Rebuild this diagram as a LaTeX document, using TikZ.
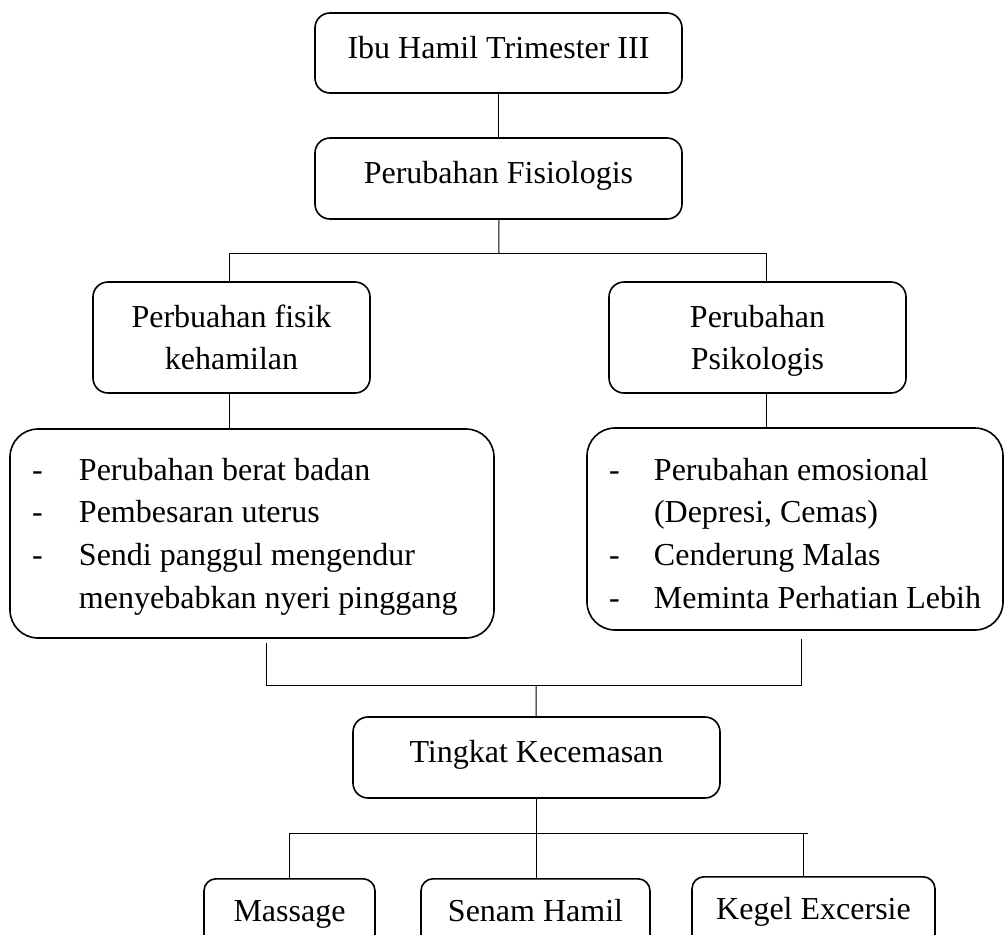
\documentclass[tikz,border=0pt]{standalone}
\usepackage{fontspec}
\setmainfont{Liberation Serif}

\begin{document}
\begin{tikzpicture}[x=1pt, y=-1pt,
  every node/.style={font=\fontsize{32}{42.7}\selectfont},
  box/.style={draw, line width=1.6pt, rounded corners=15pt, align=center, inner sep=0pt},
  oneline/.style={text height=22pt, text depth=12pt},
  listbox/.style={draw, line width=1.6pt, rounded corners=28pt, inner xsep=22pt, inner ysep=0pt, text height=30pt},
  link/.style={line width=1pt}]
  \useasboundingbox (0,0) rectangle (1005,935);

  \node[box, oneline, minimum width=367pt, minimum height=80pt] (ibu) at (498.5,53) {Ibu Hamil Trimester III};
  \node[box, oneline, minimum width=367pt, minimum height=81pt] (fisio) at (498.5,178.5) {Perubahan Fisiologis};
  \node[box, minimum width=277pt, minimum height=111pt] (fisik) at (231.5,337.5) {Perbuahan fisik\\kehamilan};
  \node[box, text depth=0pt, minimum width=297pt, minimum height=111pt] (psiko) at (757.5,337.5) {Perubahan\\Psikologis};
  \node[listbox, text depth=137pt, minimum width=484pt, minimum height=209pt] (fisikl) at (252,533.5)
    {\begin{tabular}[t]{@{}p{47pt}@{}p{393pt}@{}}
      - & Perubahan berat badan\\
      - & Pembesaran uterus\\
      - & Sendi panggul mengendur\\
        & menyebabkan nyeri pinggang
    \end{tabular}};
  \node[listbox, text depth=128pt, minimum width=416pt, minimum height=202pt] (psikol) at (795,529)
    {\begin{tabular}[t]{@{}p{45pt}@{}p{327pt}@{}}
      - & Perubahan emosional\\
        & (Depresi, Cemas)\\
      - & Cenderung Malas\\
      - & Meminta Perhatian Lebih
    \end{tabular}};
  \node[box, oneline, minimum width=367pt, minimum height=81pt] (cemas) at (536.5,757.5) {Tingkat Kecemasan};
  \node[box, oneline, rounded corners=12pt, anchor=north, minimum width=171pt, minimum height=76pt] (massage) at (289.5,878) {Massage};
  \node[box, oneline, rounded corners=12pt, anchor=north, minimum width=229pt, minimum height=76pt] (senam) at (535.5,878) {Senam Hamil};
  \node[box, oneline, rounded corners=12pt, anchor=north, minimum width=243pt, minimum height=76pt] (kegel) at (813.5,876) {Kegel Excersie};

  \coordinate (j1a) at (229,253);
  \coordinate (j1) at (499,253);
  \coordinate (j1b) at (766,253);
  \coordinate (j2a) at (266,685);
  \coordinate (j2) at (536,685);
  \coordinate (j2b) at (801,685);
  \coordinate (j3) at (536,833);
  \coordinate (j3b) at (803,833);
  \coordinate (j3c) at (808,833);

  \draw[link] (ibu) -- (fisio);
  \draw[link] (fisio) -- (j1);
  \draw[link] (j1a |- fisik.north) -- (j1a) -- (j1b) -- (j1b |- psiko.north);
  \draw[link] (j1a |- fisik.south) -- (j1a |- fisikl.north);
  \draw[link] (j1b |- psiko.south) -- (j1b |- psikol.north);
  \draw[link, shorten <=4pt, shorten >=8pt] (j2a |- fisikl.south) -- (j2a) -- (j2b) -- (j2b |- psikol.south);
  \draw[link] (j2) -- (cemas);
  \draw[link] (cemas.south) -- (cemas.south |- senam.north);
  \draw[link] (massage.north) -- (massage.north |- j3) -- (j3c);
  \draw[link] (j3b) -- (j3b |- kegel.north);
\end{tikzpicture}
\end{document}
